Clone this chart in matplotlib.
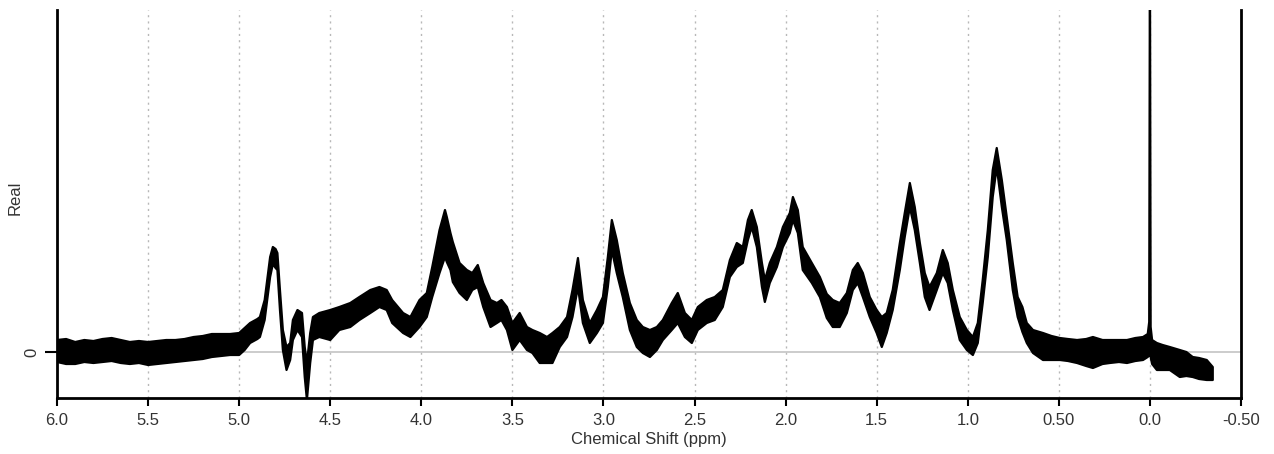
import matplotlib

matplotlib.use("Agg")
import matplotlib.pyplot as plt
import numpy

# chemical shift (ppm) and the upper / lower edge of the noisy trace,
# read off the picture (arbitrary intensity units, baseline = 0)
ppm = [
    6.00, 5.95, 5.90, 5.85, 5.80, 5.75, 5.70, 5.65, 5.60, 5.55,
    5.50, 5.45, 5.40, 5.35, 5.30, 5.25, 5.20, 5.15, 5.10, 5.05,
    5.00, 4.97, 4.94, 4.90, 4.886, 4.86, 4.83, 4.815, 4.80, 4.79,
    4.776, 4.76, 4.74, 4.72, 4.705, 4.68, 4.655, 4.64, 4.628, 4.61,
    4.595, 4.56, 4.50, 4.45, 4.39, 4.34, 4.28, 4.23, 4.19, 4.16,
    4.10, 4.06, 4.01, 3.97, 3.94, 3.90, 3.87, 3.86, 3.84, 3.827,
    3.79, 3.75, 3.72, 3.69, 3.66, 3.62, 3.585, 3.56, 3.53, 3.50,
    3.46, 3.42, 3.39, 3.35, 3.31, 3.28, 3.24, 3.20, 3.17, 3.14,
    3.113, 3.075, 3.036, 3.003, 2.976, 2.954, 2.927, 2.894, 2.855, 2.817,
    2.784, 2.745, 2.707, 2.674, 2.625, 2.592, 2.553, 2.515, 2.482, 2.433,
    2.389, 2.345, 2.306, 2.268, 2.235, 2.207, 2.186, 2.158, 2.13, 2.114,
    2.087, 2.048, 2.015, 1.977, 1.96, 1.933, 1.906, 1.856, 1.812, 1.774,
    1.741, 1.703, 1.664, 1.631, 1.604, 1.576, 1.538, 1.50, 1.472, 1.445,
    1.412, 1.373, 1.346, 1.318, 1.291, 1.263, 1.236, 1.21, 1.17, 1.137,
    1.11, 1.082, 1.044, 1.005, 0.972, 0.945, 0.918, 0.89, 0.863, 0.841,
    0.813, 0.786, 0.753, 0.726, 0.70, 0.676, 0.642, 0.587, 0.54, 0.494,
    0.45, 0.40, 0.35, 0.313, 0.26, 0.22, 0.17, 0.126, 0.08, 0.038,
    0.012, 0.004, 0.0, -0.004, -0.012, -0.038, -0.07, -0.109, -0.164, -0.20,
    -0.235, -0.27, -0.312, -0.345,
]
upper = [
    12, 13, 10, 12, 11, 13, 14, 12, 10, 11,
    10, 11, 12, 12, 13, 15, 16, 18, 18, 18,
    19, 24, 29, 33, 35, 52, 95, 105, 103, 99,
    62, 22, 5, 9, 32, 42, 39, 5, -11, 19,
    35, 39, 42, 45, 49, 55, 62, 65, 62, 52,
    39, 35, 52, 59, 85, 122, 142, 135, 119, 110,
    89, 82, 79, 87, 69, 52, 49, 52, 45, 29,
    39, 25, 22, 19, 15, 19, 25, 35, 62, 94,
    52, 29, 42, 55, 95, 132, 112, 79, 49, 32,
    25, 22, 25, 32, 49, 59, 39, 32, 45, 52,
    55, 62, 92, 109, 105, 132, 142, 125, 89, 72,
    89, 105, 125, 139, 155, 142, 105, 89, 75, 58,
    52, 49, 59, 82, 89, 79, 55, 42, 35, 39,
    62, 109, 139, 169, 145, 109, 79, 65, 79, 102,
    89, 62, 35, 22, 15, 29, 72, 122, 182, 204,
    172, 135, 89, 55, 45, 29, 22, 19, 16, 14,
    13, 12, 13, 15, 12, 12, 12, 12, 14, 15,
    18, 30, 420, 25, 12, 9, 7, 5, 2, 0,
    -5, -6, -8, -15,
]
lower = [
    -10, -12, -12, -10, -11, -10, -9, -11, -12, -11,
    -13, -12, -11, -10, -9, -8, -7, -5, -4, -3,
    -3, 2, 9, 13, 15, 32, 75, 88, 84, 82,
    42, 2, -18, -8, 12, 22, 15, -25, -48, -11,
    12, 15, 12, 22, 25, 32, 39, 45, 42, 29,
    19, 15, 25, 35, 55, 79, 95, 90, 82, 70,
    59, 52, 62, 65, 45, 25, 29, 32, 22, 2,
    12, 2, -1, -11, -11, -11, 5, 15, 35, 65,
    29, 9, 19, 29, 65, 102, 79, 55, 22, 5,
    -1, -5, 2, 12, 22, 29, 15, 9, 22, 29,
    32, 45, 75, 85, 89, 112, 125, 105, 65, 50,
    69, 85, 105, 119, 132, 119, 82, 69, 55, 34,
    25, 25, 39, 62, 69, 55, 35, 19, 5, 19,
    42, 82, 115, 145, 122, 89, 55, 42, 62, 79,
    69, 42, 12, 2, -3, 9, 49, 95, 155, 185,
    145, 112, 62, 35, 20, 9, -1, -8, -8, -8,
    -9, -11, -14, -16, -12, -11, -10, -11, -9, -8,
    -5, -3, 0, -5, -12, -18, -18, -18, -25, -24,
    -25, -27, -28, -28,
]

xticks = [6.0, 5.5, 5.0, 4.5, 4.0, 3.5, 3.0, 2.5, 2.0, 1.5, 1.0, 0.5, 0.0, -0.5]
xtick_labels = ["6.0", "5.5", "5.0", "4.5", "4.0", "3.5", "3.0", "2.5", "2.0",
                "1.5", "1.0", "0.50", "0.0", "-0.50"]

plt.rcParams["font.family"] = ["Liberation Sans", "DejaVu Sans"]

fig = plt.figure(figsize=(12.74, 4.54), dpi=100)
ax = fig.add_axes([57 / 1274, 1 - 398 / 454, 1184 / 1274, 388 / 454])

# dotted verticals at each labelled shift, grey zero line
for t in xticks[1:-1]:
    ax.axvline(t, color="#b8b8b8", lw=1.0, ls=(0, (1.5, 3)), zorder=0)
ax.axhline(0, color="#c4c4c4", lw=1.2, zorder=0)

# thick trace: the band between the two edges plus a stroked outline
ax.fill_between(ppm, lower, upper, facecolor="black", edgecolor="black",
                lw=1.6, joinstyle="round", zorder=2)

ax.set_xlim(6.0, -0.5)
ax.set_ylim(-46, 342)
ax.set_xticks(xticks)
ax.set_xticklabels(xtick_labels)
ax.set_yticks([0])
ax.set_yticklabels(["0"], rotation=90, va="center")

ax.spines["top"].set_visible(False)
for side in ["left", "right", "bottom"]:
    ax.spines[side].set_linewidth(2.0)
ax.tick_params(axis="x", direction="out", length=6, width=1.5, pad=5,
               labelsize=12, labelcolor="#333333")
ax.tick_params(axis="y", direction="out", length=9, width=1.5, pad=4,
               labelsize=12, labelcolor="#333333")

ax.set_xlabel("Chemical Shift (ppm)", fontsize=12, color="#333333")
ax.xaxis.set_label_coords(0.5, -0.088)
ax.set_ylabel("Real", fontsize=12, color="#333333")
ax.yaxis.set_label_coords(-0.029, 0.515)

fig.savefig("out.png", dpi=100)
